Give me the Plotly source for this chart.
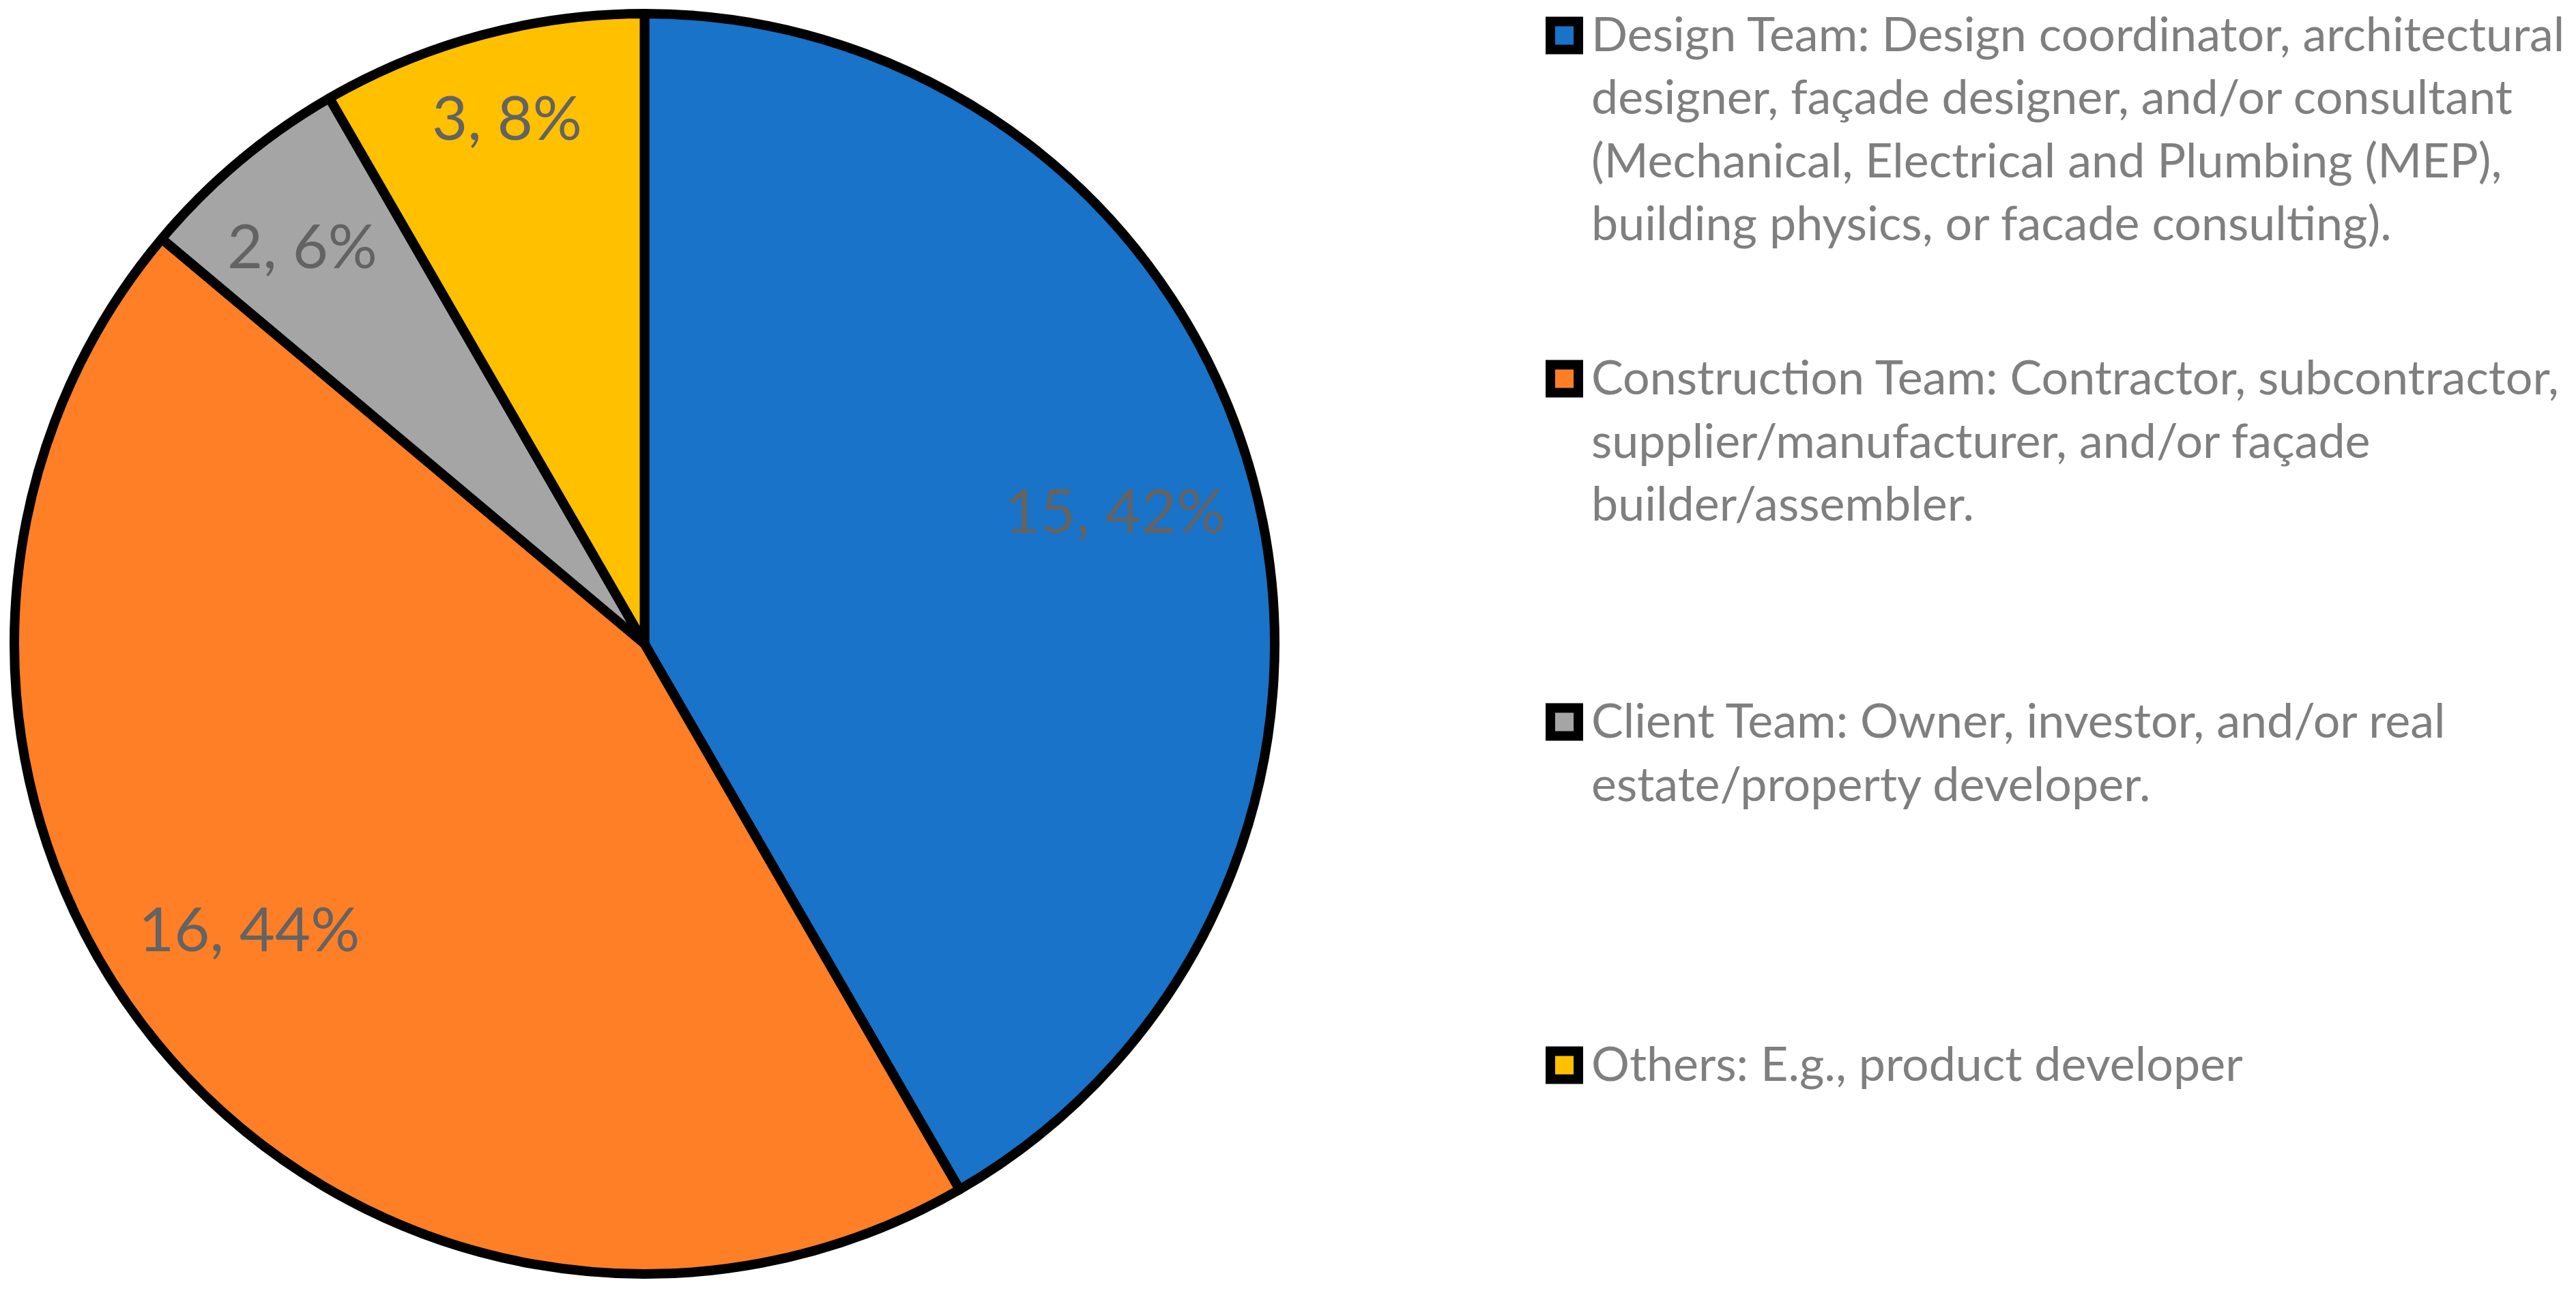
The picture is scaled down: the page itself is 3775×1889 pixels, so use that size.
import math
import plotly.graph_objects as go

# ---- data ----
categories = ["Design Team", "Construction Team", "Client Team", "Others"]
values = [15, 16, 2, 3]
colors = ["#1873C9", "#FF7F27", "#A5A5A5", "#FFC000"]
legend_lines = [
    ["Design Team: Design coordinator, architectural",
     "designer, façade designer, and/or consultant",
     "(Mechanical, Electrical and Plumbing (MEP),",
     "building physics, or facade consulting)."],
    ["Construction Team: Contractor, subcontractor,",
     "supplier/manufacturer, and/or façade",
     "builder/assembler."],
    ["Client Team: Owner, investor, and/or real",
     "estate/property developer."],
    ["Others: E.g., product developer"],
]

# ---- layout constants (pixels of the 3775x1889 canvas) ----
W, H = 3775, 1889
CX, CY, R = 944.5, 943.5, 923.5
label_r = [0.777, 0.772, 0.835, 0.865]       # radial position of slice labels
label_dangle = [-1.0, 4.4, -0.6, 0.4]        # angular nudge (deg) from slice mid-angle
FONT = "Lato, Carlito, Calibri, Liberation Sans, sans-serif"
LABEL_SIZE = 90
LEG_SIZE = 70
LEG_X_TEXT = 2330
LEG_MARK_X0, LEG_MARK_X1 = 2265, 2320
LEG_FIRST = 48      # centre of first line of first item
LEG_PITCH = 503     # item to item
LEG_LINE = 92.5     # line to line

fig = go.Figure()
fig.add_trace(go.Pie(
    labels=categories,
    values=values,
    sort=False,
    direction="clockwise",
    rotation=0,
    marker=dict(colors=colors, line=dict(color="black", width=14)),
    textinfo="none",
    hoverinfo="label+value+percent",
    showlegend=False,
    domain=dict(x=[(CX - R) / W, (CX + R) / W], y=[1 - (CY + R) / H, 1 - (CY - R) / H]),
))

annotations = []
shapes = []

# slice labels, placed around each slice's mid angle
total = sum(values)
cum = 0
for i, v in enumerate(values):
    mid = (cum + v / 2) / total * 2 * math.pi + math.radians(label_dangle[i])
    cum += v
    px = CX + label_r[i] * R * math.sin(mid)
    py = CY - label_r[i] * R * math.cos(mid)
    pct = round(v / total * 100)
    annotations.append(dict(
        x=px / W, y=1 - py / H, xref="paper", yref="paper",
        text=f"{v}, {pct}%", showarrow=False,
        xanchor="center", yanchor="middle",
        font=dict(family=FONT, size=LABEL_SIZE, color="#636363"),
    ))

# legend
for i, lines in enumerate(legend_lines):
    yc0 = LEG_FIRST + i * LEG_PITCH
    for j, line in enumerate(lines):
        yc = yc0 + j * LEG_LINE
        annotations.append(dict(
            x=LEG_X_TEXT / W, y=1 - yc / H, xref="paper", yref="paper",
            text=line, showarrow=False, xanchor="left", yanchor="middle",
            align="left",
            font=dict(family=FONT, size=LEG_SIZE, color="#7F7F7F"),
        ))
    half = (LEG_MARK_X1 - LEG_MARK_X0) / 2
    inset = 7
    shapes.append(dict(
        type="rect", xref="paper", yref="paper",
        x0=(LEG_MARK_X0 + inset) / W, x1=(LEG_MARK_X1 - inset) / W,
        y0=1 - (yc0 + 4 - half + inset) / H, y1=1 - (yc0 + 4 + half - inset) / H,
        fillcolor=colors[i], line=dict(color="black", width=14),
    ))

fig.update_layout(
    width=W, height=H,
    margin=dict(l=0, r=0, t=0, b=0),
    paper_bgcolor="white", plot_bgcolor="white",
    annotations=annotations, shapes=shapes,
    font=dict(family=FONT),
)

fig.write_html("out.html", config={"displayModeBar": False},
               post_script="document.body.style.margin='0';")
